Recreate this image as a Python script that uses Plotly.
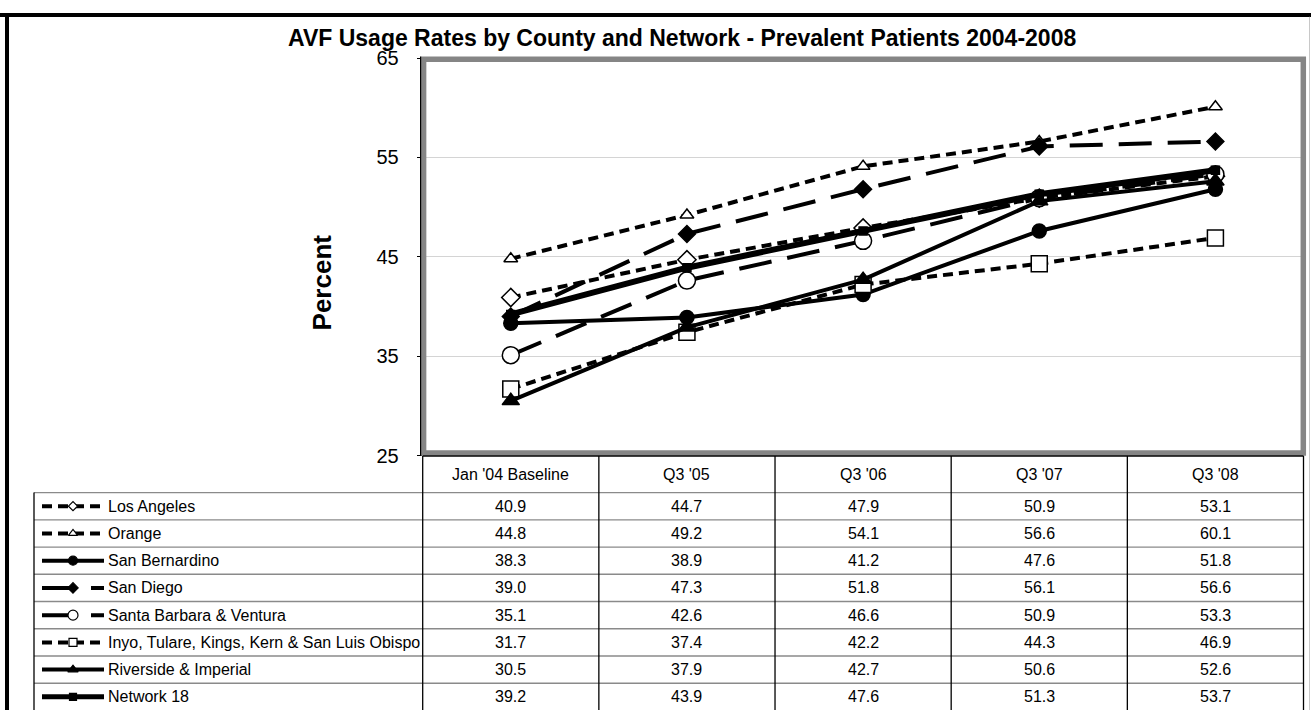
import plotly.graph_objects as go

W, H = 1311, 721

# ---------------- data ----------------
categories = ["Jan '04 Baseline", "Q3 '05", "Q3 '06", "Q3 '07", "Q3 '08"]
series_names = [
    "Los Angeles",
    "Orange",
    "San Bernardino",
    "San Diego",
    "Santa Barbara & Ventura",
    "Inyo, Tulare, Kings, Kern & San Luis Obispo",
    "Riverside & Imperial",
    "Network 18",
]
los_angeles = [40.9, 44.7, 47.9, 50.9, 53.1]
orange = [44.8, 49.2, 54.1, 56.6, 60.1]
san_bernardino = [38.3, 38.9, 41.2, 47.6, 51.8]
san_diego = [39.0, 47.3, 51.8, 56.1, 56.6]
santa_barbara_ventura = [35.1, 42.6, 46.6, 50.9, 53.3]
inyo_tulare_kings_kern_slo = [31.7, 37.4, 42.2, 44.3, 46.9]
riverside_imperial = [30.5, 37.9, 42.7, 50.6, 52.6]
network_18 = [39.2, 43.9, 47.6, 51.3, 53.7]
y_tick_values = [25, 35, 45, 55, 65]
title_text = "AVF Usage Rates by County and Network - Prevalent Patients 2004-2008"
y_title_text = "Percent"

series_values = [los_angeles, orange, san_bernardino, san_diego,
                 santa_barbara_ventura, inyo_tulare_kings_kern_slo,
                 riverside_imperial, network_18]

# ---------------- styles ----------------
FONT = "Liberation Sans, Arial, sans-serif"
SHORT = "10px,6px"
LONG = "33px,16px"
styles = [
    dict(dash=SHORT, width=4, symbol="diamond", size=14, fill="white", lsize=7),
    dict(dash=SHORT, width=4, symbol="triangle-up", size=12, fill="white", lsize=8),
    dict(dash="solid", width=4, symbol="circle", size=14, fill="black", lsize=9),
    dict(dash=LONG, width=4, symbol="diamond", size=13, fill="black", lsize=8),
    dict(dash=LONG, width=4, symbol="circle", size=17, fill="white", lsize=10),
    dict(dash=SHORT, width=4, symbol="square", size=16, fill="white", lsize=8),
    dict(dash="solid", width=4, symbol="triangle-up", size=15, fill="black", lsize=9),
    dict(dash="solid", width=6, symbol="square", size=8, fill="black", lsize=7),
]

# ---------------- layout geometry (pixels) ----------------
PX_L, PX_R = 422.7, 1303.5
PY_T, PY_B = 48.5, 458.5
TABLE_L = 34.0
HEADER_TOP = 459.0
ROW0 = 496.7
ROW_H = 28.1
COL_W = (PX_R - PX_L) / len(categories)


def row_center(i):
    return ROW0 + ROW_H * (i + 0.5)


fig = go.Figure()

# main series
for name, vals, st in zip(series_names, series_values, styles):
    fig.add_trace(go.Scatter(
        x=categories, y=vals, name=name, mode="lines+markers",
        line=dict(color="black", width=st["width"], dash=st["dash"]),
        marker=dict(symbol=st["symbol"], size=st["size"], color=st["fill"],
                    line=dict(color="black", width=1.5)),
        xaxis="x", yaxis="y", cliponaxis=False, showlegend=False,
        hoverinfo="skip",
    ))

# legend keys inside the data table (overlay pixel axes)
LEG_X0, LEG_X1, LEG_XM = 42, 104, 73
for i, st in enumerate(styles):
    rc = row_center(i)
    fig.add_trace(go.Scatter(
        x=[LEG_X0, LEG_X1], y=[rc, rc], mode="lines",
        line=dict(color="black", width=4 if st["width"] < 6 else 5, dash=st["dash"]),
        xaxis="x2", yaxis="y2", showlegend=False, hoverinfo="skip", cliponaxis=False,
    ))
    fig.add_trace(go.Scatter(
        x=[LEG_XM], y=[rc], mode="markers",
        marker=dict(symbol=st["symbol"], size=st["lsize"], color=st["fill"],
                    line=dict(color="black", width=1.2)),
        xaxis="x2", yaxis="y2", showlegend=False, hoverinfo="skip", cliponaxis=False,
    ))

shapes = []
# outer frame
shapes.append(dict(type="line", xref="x2", yref="y2", x0=0, x1=W, y0=4, y1=4,
                   line=dict(color="black", width=4)))
shapes.append(dict(type="line", xref="x2", yref="y2", x0=7, x1=7, y0=2, y1=H,
                   line=dict(color="black", width=4)))
shapes.append(dict(type="line", xref="x2", yref="y2", x0=1309.5, x1=1309.5, y0=6, y1=H,
                   line=dict(color="#c8c8c8", width=1)))
# plot-area gray border
shapes.append(dict(type="rect", xref="x2", yref="y2", x0=423.6, x1=1303.3, y0=49.7, y1=455.8,
                   line=dict(color="#858585", width=5.5)))
# black y-axis line
shapes.append(dict(type="line", xref="x2", yref="y2", x0=420.6, x1=420.6, y0=47, y1=459,
                   line=dict(color="black", width=1.2)))
# table: header top line
shapes.append(dict(type="line", xref="x2", yref="y2", x0=PX_L, x1=PX_R, y0=HEADER_TOP, y1=HEADER_TOP,
                   line=dict(color="black", width=1.5)))
# table: horizontal row lines
for k in range(len(series_names)):
    y = ROW0 + ROW_H * k
    shapes.append(dict(type="line", xref="x2", yref="y2", x0=TABLE_L, x1=PX_R, y0=y, y1=y,
                       line=dict(color="#8a8a8a", width=1.3)))
# table: vertical lines
for k in range(len(categories) + 1):
    x = PX_L + COL_W * k
    shapes.append(dict(type="line", xref="x2", yref="y2", x0=x, x1=x, y0=HEADER_TOP, y1=H,
                       line=dict(color="black", width=1.3)))
shapes.append(dict(type="line", xref="x2", yref="y2", x0=TABLE_L, x1=TABLE_L, y0=ROW0, y1=H,
                   line=dict(color="black", width=1.3)))

annotations = []
annotations.append(dict(text="<b>" + title_text + "</b>", xref="x2", yref="y2", x=682, y=28,
                        showarrow=False, xanchor="center", yanchor="middle",
                        font=dict(family=FONT, size=23, color="black")))
annotations.append(dict(text="<b>" + y_title_text + "</b>", xref="x2", yref="y2", x=322, y=280,
                        showarrow=False, textangle=-90, xanchor="center", yanchor="middle",
                        font=dict(family=FONT, size=26, color="black")))
for cat in categories:
    annotations.append(dict(text=cat, xref="x", yref="y2", x=cat, y=(HEADER_TOP + ROW0) / 2,
                            showarrow=False, xanchor="center", yanchor="middle",
                            font=dict(family=FONT, size=16, color="black")))
for i, (name, vals) in enumerate(zip(series_names, series_values)):
    rc = row_center(i)
    annotations.append(dict(text=name, xref="x2", yref="y2", x=106, y=rc,
                            showarrow=False, xanchor="left", yanchor="middle",
                            font=dict(family=FONT, size=16, color="black")))
    for cat, v in zip(categories, vals):
        annotations.append(dict(text=f"{v:.1f}", xref="x", yref="y2", x=cat, y=rc,
                                showarrow=False, xanchor="center", yanchor="middle",
                                font=dict(family=FONT, size=16, color="black")))

fig.update_layout(
    width=W, height=H, autosize=False,
    margin=dict(l=0, r=0, t=0, b=0, pad=0),
    paper_bgcolor="white", plot_bgcolor="rgba(0,0,0,0)",
    font=dict(family=FONT, color="black"),
    showlegend=False,
    xaxis=dict(domain=[PX_L / W, PX_R / W], type="category", range=[-0.5, len(categories) - 0.5],
               showticklabels=False, ticks="", showgrid=False, zeroline=False, showline=False,
               fixedrange=True, anchor="y"),
    yaxis=dict(domain=[1 - PY_B / H, 1 - PY_T / H], range=[25, 65], tickvals=y_tick_values,
               ticks="outside", ticklen=5, tickwidth=1.2, tickcolor="black",
               ticklabelstandoff=14,
               showgrid=True, gridcolor="#d4d4d4", gridwidth=1, zeroline=False, showline=False,
               tickfont=dict(family=FONT, size=20, color="black"), fixedrange=True, anchor="x"),
    xaxis2=dict(domain=[0, 1], range=[0, W], visible=False, fixedrange=True, anchor="y2"),
    yaxis2=dict(domain=[0, 1], range=[H, 0], visible=False, fixedrange=True, anchor="x2"),
    shapes=shapes,
    annotations=annotations,
)

fig.write_html("out.html", config={"displayModeBar": False},
               post_script="document.body.style.margin='0';document.body.style.overflow='hidden';")
